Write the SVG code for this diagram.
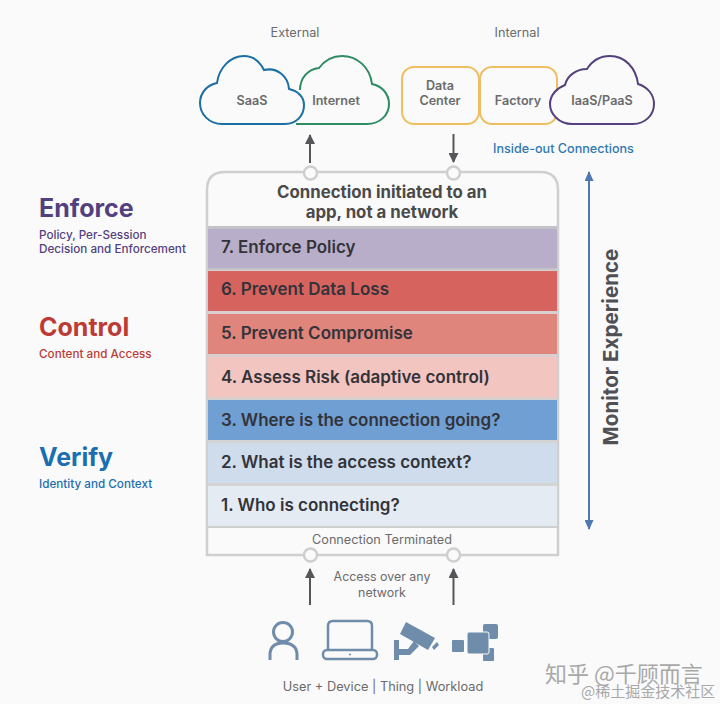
<svg xmlns="http://www.w3.org/2000/svg" width="720" height="704" viewBox="0 0 720 704">
<style>
text{font-family:Inter,"Noto Sans","Liberation Sans",sans-serif;font-weight:500}
.s{font-size:12.700px;fill:#6b6b6b;text-anchor:middle;font-weight:400}
.c{font-size:12.600px;fill:#6b6b6b;text-anchor:middle;font-weight:600}
.b{font-size:17px;fill:#33333a;font-weight:600}
.h{font-size:25px;font-weight:700}
.d{font-size:11.700px}
.cl{fill:#fafafa;stroke-width:2}
.hole{fill:#fafafa;stroke:#cfcfcf;stroke-width:2.500}
.ar{stroke:#55565a;stroke-width:2;fill:none}
.ic{fill:#6f8cab}
.ics{fill:none;stroke:#6f8cab;stroke-width:3.500}
.wm{fill:#a8a8a8;font-family:"Noto Sans CJK SC",sans-serif;font-weight:400}
</style>
<defs>
<marker id="ah" markerWidth="10" markerHeight="10" refX="9" refY="5" orient="auto" markerUnits="userSpaceOnUse"><path d="M0 0L10 5L0 10Z" fill="#55565a"/></marker>
<marker id="bh" markerWidth="10" markerHeight="9" refX="9" refY="4.500" orient="auto-start-reverse" markerUnits="userSpaceOnUse"><path d="M0 0L10 4.500L0 9Z" fill="#4f77b0"/></marker>
</defs>
<rect width="720" height="704" fill="#fafafa"/>

<text class="s" x="295" y="37">External</text>
<text class="s" x="517" y="37">Internal</text>

<g id="internet">
<path class="cl" stroke="#2e8b63" d="M296 124H367C380 124 389 115 389 104C389 94 382 86 372 84C370 67 357 56 342 56C332 56 325 60 319 68C308 69 300 78 300 90"/>
<text class="c" x="336" y="105">Internet</text>
</g>
<g id="saas">
<path class="cl" stroke="#1b6fa5" d="M222 124C209 124 200 114 200 103C200 93 207 85 217 83C219 68 230 56 244 56C253 56 260 62 264 70C277 67 288 76 289 89C298 91 304 97 304 105C304 116 296 124 285 124Z"/>
<text class="c" x="252" y="105">SaaS</text>
</g>
<g id="data-center">
<rect x="402" y="67" width="77" height="57" rx="12" fill="#fafafa" stroke="#eebf62" stroke-width="2"/>
<text class="c" x="440" y="90">Data</text><text class="c" x="440" y="105">Center</text>
</g>
<g id="factory">
<rect x="480" y="67" width="77" height="57" rx="12" fill="#fafafa" stroke="#eebf62" stroke-width="2"/>
<text class="c" x="518" y="105">Factory</text>
</g>
<g id="iaas">
<path class="cl" stroke="#54407f" d="M572 124C559 124 550 114 550 104C550 95 557 88 565 85C567 76 576 69 587 69C592 61 600 56 610 56C625 56 636 68 638 84C648 87 654 95 654 104C654 115 645 124 633 124Z"/>
<text class="c" x="602" y="105">IaaS/PaaS</text>
</g>

<text x="493" y="153" style="font-size:12.600px;fill:#2f78b0">Inside-out Connections</text>

<g id="stack">
<path d="M207 555V190Q207 172 225 172H540Q558 172 558 190V555Z" fill="#fafafa" stroke="#cfcfcf" stroke-width="2.500"/>
<text x="382" y="198" text-anchor="middle" style="font-size:16.800px;fill:#4a4a4a;font-weight:700">Connection initiated to an</text>
<text x="382" y="218" text-anchor="middle" style="font-size:16.800px;fill:#4a4a4a;font-weight:700">app, not a network</text>
<text x="382" y="544" text-anchor="middle" style="font-size:12.700px;fill:#6b6b6b;font-weight:400">Connection Terminated</text>
</g>
<g id="layer-7"><rect x="208" y="226" width="349" height="44" fill="#c4c4c8"/><rect x="208" y="229" width="349" height="39" fill="#b9aec9"/><text class="b" x="221" y="253">7. Enforce Policy</text></g>
<g id="layer-6"><rect x="208" y="270" width="349" height="3" fill="#d8d0d0"/><rect x="208" y="271" width="349" height="40" fill="#d7635f"/><text class="b" x="221" y="295">6. Prevent Data Loss</text></g>
<g id="layer-5"><rect x="208" y="311" width="349" height="3" fill="#d8d0d0"/><rect x="208" y="314" width="349" height="40" fill="#e0857c"/><text class="b" x="221" y="339">5. Prevent Compromise</text></g>
<g id="layer-4"><rect x="208" y="354" width="349" height="3" fill="#d8d0d0"/><rect x="208" y="357" width="349" height="40" fill="#f3c5c1"/><text class="b" x="221" y="383">4. Assess Risk (adaptive control)</text></g>
<g id="layer-3"><rect x="208" y="397" width="349" height="3" fill="#d8d0d0"/><rect x="208" y="400" width="349" height="40" fill="#709fd3"/><text class="b" x="221" y="426">3. Where is the connection going?</text></g>
<g id="layer-2"><rect x="208" y="440" width="349" height="3" fill="#d4d4d4"/><rect x="208" y="443" width="349" height="40" fill="#cfdcec"/><text class="b" x="221" y="468">2. What is the access context?</text></g>
<g id="layer-1"><rect x="208" y="483" width="349" height="3" fill="#d4d4d4"/><rect x="208" y="486" width="349" height="40" fill="#e4ebf3"/><rect x="208" y="526" width="349" height="2" fill="#cfcfcf"/><text class="b" x="221" y="511">1. Who is connecting?</text></g>

<g id="connectors">
<line class="ar" x1="310" y1="163" x2="310" y2="135" marker-end="url(#ah)"/>
<line class="ar" x1="453.500" y1="134" x2="453.500" y2="162" marker-end="url(#ah)"/>
<line class="ar" x1="310" y1="605" x2="310" y2="569" marker-end="url(#ah)"/>
<line class="ar" x1="453.500" y1="605" x2="453.500" y2="569" marker-end="url(#ah)"/>
<line x1="589" y1="172" x2="589" y2="529" stroke="#4f77b0" stroke-width="2" marker-start="url(#bh)" marker-end="url(#bh)"/>
<circle class="hole" cx="310.500" cy="173" r="6.500"/>
<circle class="hole" cx="453.500" cy="173" r="6.500"/>
<circle class="hole" cx="310.500" cy="555" r="6.500"/>
<circle class="hole" cx="453.500" cy="555" r="6.500"/>
</g>

<text transform="translate(618 347) rotate(-90)" text-anchor="middle" style="font-size:20.600px;fill:#4f5055;font-weight:700">Monitor Experience</text>

<g id="enforce"><text class="h" x="39" y="217" fill="#53407f">Enforce</text>
<text class="d" x="39" y="239" fill="#53407f">Policy, Per-Session</text>
<text class="d" x="39" y="253" fill="#53407f">Decision and Enforcement</text></g>
<g id="control"><text class="h" x="39" y="336" fill="#bd3b35">Control</text>
<text class="d" x="39" y="358" fill="#bd3b35">Content and Access</text></g>
<g id="verify"><text class="h" x="39" y="466" fill="#1b6fb0">Verify</text>
<text class="d" x="39" y="488" fill="#1b6fb0">Identity and Context</text></g>

<text x="382" y="581" text-anchor="middle" style="font-size:12.400px;fill:#6b6b6b;font-weight:400">Access over any</text>
<text x="382" y="597" text-anchor="middle" style="font-size:12.400px;fill:#6b6b6b;font-weight:400">network</text>

<g id="user">
<circle class="ics" cx="283" cy="632" r="9.500" style="stroke-width:3"/>
<path class="ics" style="stroke-width:3" d="M270 660V655C270 646 276 643 283 643C291 643 297 646 297 655V660"/>
</g>
<g id="device">
<path class="ics" style="stroke-width:2.500" d="M328 650V626Q328 621 333 621H367Q372 621 372 626V650"/>
<rect class="ics" style="stroke-width:2.500" x="323" y="650" width="54" height="9" rx="4"/>
<circle class="ic" cx="350" cy="654.500" r="1"/>
</g>
<g id="thing">
<path class="ic" d="M406 622L435 638L428 650L400 634Z"/>
<path class="ic" d="M394 640H399V649H408L414 641L419 646L410 655H399V660H394Z"/>
<path class="ic" d="M432 647L437 642L439 645L434 650Z"/>
</g>
<g id="workload">
<rect class="ic" x="452" y="640" width="12" height="12" rx="1"/>
<rect class="ic" x="483" y="624" width="15" height="15" rx="2"/>
<rect class="ic" x="483" y="648" width="11" height="13" rx="1"/>
<rect class="ic" x="467" y="632" width="22" height="22" rx="2" stroke="#fafafa"/>
</g>
<text x="383" y="691" text-anchor="middle" style="font-size:12.800px;fill:#6b6b6b;font-weight:400">User + Device | Thing | Workload</text>

<text class="wm" x="545" y="682" style="font-size:22px">知乎 @千顾而言</text>
<text class="wm" x="581" y="697" style="font-size:15px">@稀土掘金技术社区</text>
</svg>
